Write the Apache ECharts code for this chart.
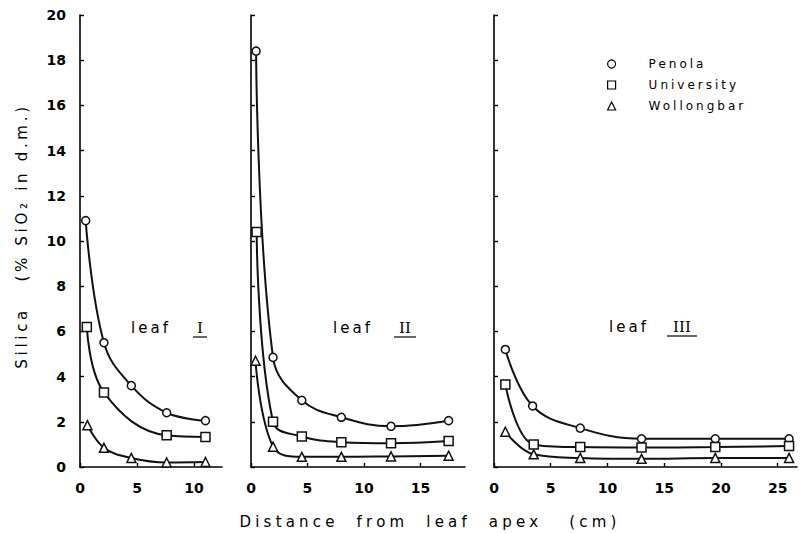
<!DOCTYPE html>
<html>
<head>
<meta charset="utf-8">
<script src="https://cdn.jsdelivr.net/npm/echarts@6/dist/echarts.min.js"></script>
<style>
  html, body { margin: 0; padding: 0; background: #fff; }
  #main { width: 803px; height: 533px; }
</style>
</head>
<body>
<div id="main"></div>
<script>
// ---------- data ----------
const seriesNames = ['Penola', 'University', 'Wollongbar'];
const leafWord = 'leaf';
const romanNumerals = ['I', 'II', 'III'];
const yTitle = 'Silica   (% SiO\u2082 in d.m.)';
const xTitle = 'Distance  from  leaf  apex   (cm)';

// leaf I : [distance (cm), % SiO2]
const leafI_Penola     = [[0.5, 10.9], [2.1, 5.5], [4.5, 3.6], [7.6, 2.4], [11.0, 2.05]];
const leafI_University = [[0.6, 6.2], [2.1, 3.3], [7.6, 1.4], [11.0, 1.33]];
const leafI_Wollongbar = [[0.65, 1.85], [2.1, 0.85], [4.5, 0.4], [7.6, 0.2], [11.0, 0.22]];

// leaf II
const leafII_Penola     = [[0.45, 18.4], [1.95, 4.85], [4.5, 2.95], [8.0, 2.2], [12.4, 1.8], [17.5, 2.05]];
const leafII_University = [[0.5, 10.4], [1.95, 2.0], [4.5, 1.35], [8.0, 1.1], [12.4, 1.05], [17.5, 1.15]];
const leafII_Wollongbar = [[0.4, 4.7], [1.95, 0.9], [4.5, 0.45], [8.0, 0.45], [12.4, 0.47], [17.5, 0.5]];

// leaf III
const leafIII_Penola     = [[1.0, 5.2], [3.4, 2.7], [7.6, 1.72], [13.0, 1.25], [19.5, 1.25], [26.0, 1.25]];
const leafIII_University = [[1.0, 3.65], [3.5, 1.0], [7.6, 0.88], [13.0, 0.86], [19.5, 0.88], [26.0, 0.93]];
const leafIII_Wollongbar = [[1.0, 1.56], [3.5, 0.56], [7.6, 0.4], [13.0, 0.36], [19.5, 0.4], [26.0, 0.4]];

// axes
const xMaxes = [12.45, 18.95, 26.7];
const xTicksI   = [0, 5, 10];
const xTicksII  = [0, 5, 10, 15];
const xTicksIII = [0, 5, 10, 15, 20, 25];
const yMin = 0, yMax = 20, yStep = 2;

// ---------- chart ----------
const panelData = [
  [leafI_Penola, leafI_University, leafI_Wollongbar],
  [leafII_Penola, leafII_University, leafII_Wollongbar],
  [leafIII_Penola, leafIII_University, leafIII_Wollongbar]
];
const xTicks = [xTicksI, xTicksII, xTicksIII];
const symbols = ['circle', 'rect', 'triangle'];
const symbolSizes = [8, 9, 9];

const FONT = 'DejaVu Sans';
const grids = [
  { left: 80, top: 15, width: 142, height: 452 },
  { left: 251, top: 15, width: 214, height: 452 },
  { left: 494, top: 15, width: 303, height: 452 }
];

const xAxes = grids.map((g, i) => ({
  type: 'value', gridIndex: i, min: 0, max: xMaxes[i], interval: 5,
  axisLine: { show: true, onZero: false, lineStyle: { color: '#000', width: 1.6 } },
  axisTick: { show: true, inside: true, length: 4, customValues: xTicks[i],
              lineStyle: { color: '#000', width: 1.4 } },
  axisLabel: { customValues: xTicks[i], margin: 14,
               color: '#000', fontFamily: FONT, fontSize: 14, fontWeight: 'bold' },
  splitLine: { show: false }
}));

const yAxes = grids.map((g, i) => ({
  type: 'value', gridIndex: i, min: yMin, max: yMax, interval: yStep,
  axisLine: { show: true, lineStyle: { color: '#000', width: 1.6 } },
  axisTick: { show: true, inside: true, length: 4, lineStyle: { color: '#000', width: 1.4 } },
  axisLabel: { show: i === 0, margin: 14, color: '#000', fontFamily: FONT,
               fontSize: 14, fontWeight: 'bold' },
  splitLine: { show: false }
}));

const series = [];
panelData.forEach((sets, p) => {
  sets.forEach((data, s) => {
    series.push({
      name: seriesNames[s], type: 'line', xAxisIndex: p, yAxisIndex: p,
      data: data, smooth: 0.4,
      symbol: symbols[s], symbolSize: symbolSizes[s], showAllSymbol: true,
      lineStyle: { color: '#111', width: 2 },
      itemStyle: { color: '#fff', borderColor: '#111', borderWidth: 1.5 },
      emphasis: { disabled: true }, z: 3
    });
  });
});

// leaf labels: "leaf" word centre and numeral centre (pixels)
const wordPos = [[151, 328], [353, 328], [629, 327]];
const numPos  = [[200, 328], [405, 328], [682, 327]];
const graphic = [];
wordPos.forEach((pos, i) => {
  graphic.push({
    type: 'text', x: pos[0], y: pos[1], silent: true,
    style: { text: leafWord, fill: '#000', fontFamily: FONT, fontSize: 15,
             textAlign: 'center', textVerticalAlign: 'middle' }
  });
  graphic.push({
    type: 'text', x: numPos[i][0], y: numPos[i][1], silent: true,
    style: { text: romanNumerals[i], fill: '#000', fontFamily: 'DejaVu Serif', fontSize: 15,
             textAlign: 'center', textVerticalAlign: 'middle' }
  });
  const half = 3 + 4 * romanNumerals[i].length;
  graphic.push({
    type: 'line', silent: true,
    shape: { x1: numPos[i][0] - half, y1: numPos[i][1] + 9, x2: numPos[i][0] + half, y2: numPos[i][1] + 9 },
    style: { stroke: '#000', lineWidth: 1.2 }
  });
});
graphic.push({
  type: 'text', x: 430, y: 522, silent: true,
  style: { text: xTitle, fill: '#000', fontFamily: FONT,
           fontSize: 15, textAlign: 'center', textVerticalAlign: 'middle' }
});
graphic.push({
  type: 'text', x: 22, y: 236, rotation: Math.PI / 2, silent: true,
  style: { text: yTitle, fill: '#000', fontFamily: FONT,
           fontSize: 15, textAlign: 'center', textVerticalAlign: 'middle' }
});

const option = {
  backgroundColor: '#fff',
  animation: false,
  grid: grids,
  xAxis: xAxes,
  yAxis: yAxes,
  legend: {
    orient: 'vertical', left: 602, top: 53, itemGap: 9,
    itemWidth: 8, itemHeight: 8, selectedMode: false,
    data: [
      { name: 'Penola', icon: 'circle' },
      { name: 'University', icon: 'rect' },
      { name: 'Wollongbar', icon: 'triangle' }
    ],
    itemStyle: { color: '#fff', borderColor: '#000', borderWidth: 1.2 },
    lineStyle: { width: 0 },
    textStyle: { color: '#000', fontFamily: FONT, fontSize: 12, padding: [0, 0, 0, 28] }
  },
  graphic: graphic,
  series: series
};

const el = document.getElementById('main');
const chart = echarts.init(el, null, { renderer: 'svg' });
chart.setOption(option);

function spaceText() {
  el.querySelectorAll('text').forEach(t => {
    const s = t.textContent || '';
    if (/Distance/.test(s)) t.style.letterSpacing = '4.2px';
    else if (/Silica/.test(s)) t.style.letterSpacing = '3.7px';
    else if (/^[IV]+$/.test(s)) t.style.letterSpacing = '0px';
    else if (s.length > 2) t.style.letterSpacing = '3px';
  });
}
spaceText();
chart.on('finished', spaceText);
</script>
</body>
</html>
